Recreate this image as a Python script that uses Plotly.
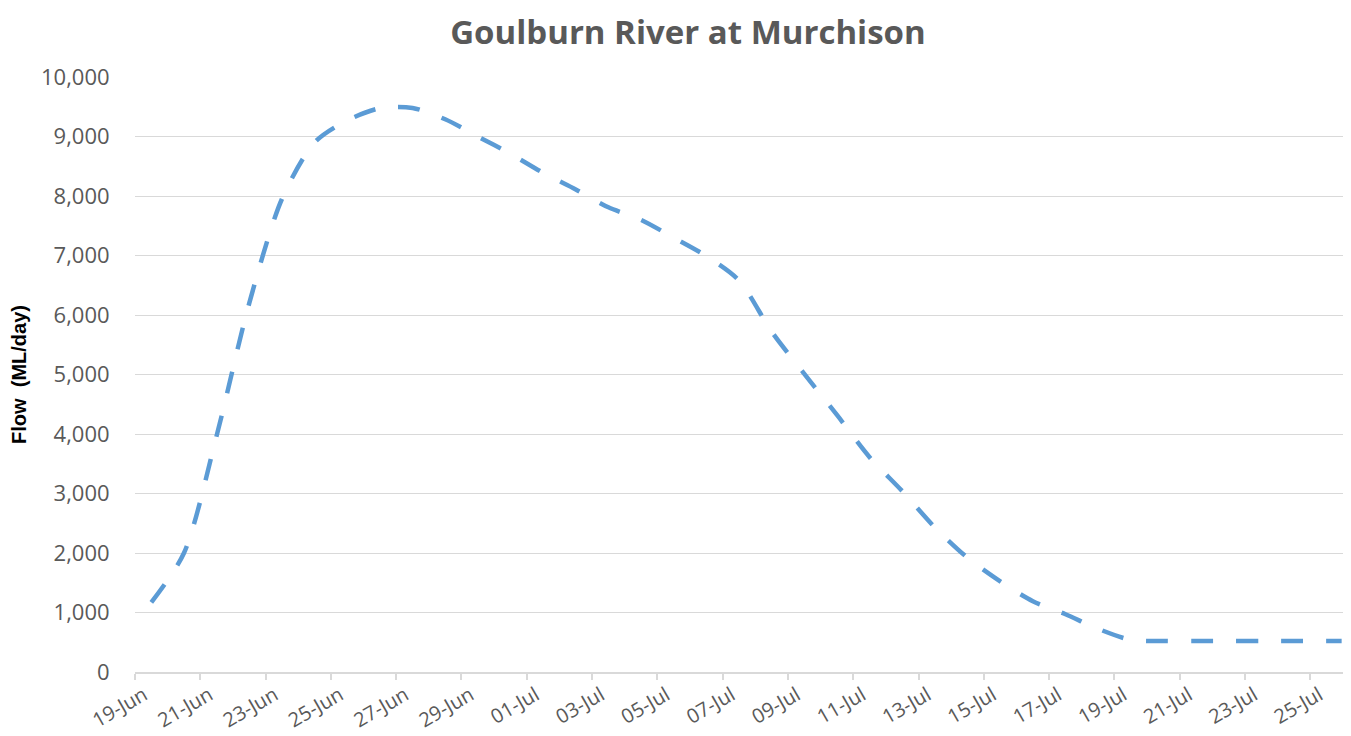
import plotly.graph_objects as go

# Flow readings (ML/day) at midday of each day, plus the final reading late on 25-Jul
dates = [
    "2023-06-19", "2023-06-20", "2023-06-21", "2023-06-22", "2023-06-23",
    "2023-06-24", "2023-06-25", "2023-06-26", "2023-06-27", "2023-06-28",
    "2023-06-29", "2023-06-30", "2023-07-01", "2023-07-02", "2023-07-03",
    "2023-07-04", "2023-07-05", "2023-07-06", "2023-07-07", "2023-07-08",
    "2023-07-09", "2023-07-10", "2023-07-11", "2023-07-12", "2023-07-13",
    "2023-07-14", "2023-07-15", "2023-07-16", "2023-07-17", "2023-07-18",
    "2023-07-19", "2023-07-20", "2023-07-21", "2023-07-22", "2023-07-23",
    "2023-07-24", "2023-07-25",
]
flow = [
    1170, 2000, 3970, 6200, 7950,
    8900, 9270, 9475, 9480, 9290,
    9000, 8710, 8390, 8110, 7810,
    7600, 7300, 6990, 6580, 5720,
    5010, 4320, 3610, 3040, 2430,
    1920, 1525, 1190, 970, 725,
    540, 520, 520, 520, 520,
    520, 520,
]
final_time = "2023-07-25 23:00"
final_flow = 520

title_text = "Goulburn River at Murchison"
y_title = "Flow  (ML/day)"

x_times = [d + " 12:00" for d in dates] + [final_time]
y_vals = flow + [final_flow]

fig = go.Figure()
fig.add_trace(go.Scatter(
    x=x_times, y=y_vals, mode="lines",
    line=dict(color="#5B9BD5", width=4.5, dash="22px,23px", shape="spline", smoothing=0.8),
    showlegend=False, hoverinfo="x+y",
))

fig.update_layout(
    width=1343, height=728,
    paper_bgcolor="white", plot_bgcolor="white",
    margin=dict(l=127, r=8, t=69, b=64, autoexpand=False),
    title=dict(
        text="<b>" + title_text + "</b>",
        x=0.5063, xref="container", xanchor="center",
        y=0.967, yref="container", yanchor="middle",
        font=dict(family="Open Sans", size=33, color="#595959"),
    ),
    xaxis=dict(
        type="date", automargin=False,
        range=["2023-06-19", "2023-07-26"],
        tick0="2023-06-19", dtick=2 * 86400000,
        tickformat="%d-%b", tickangle=-30,
        ticks="outside", ticklen=6, tickcolor="#d9d9d9", tickwidth=1.5,
        ticklabelshift=9, ticklabelstandoff=-4,
        showline=True, linecolor="#d9d9d9", linewidth=1.5,
        showgrid=False, zeroline=False,
        tickfont=dict(family="Open Sans", size=20, color="#595959"),
    ),
    yaxis=dict(
        automargin=False,
        range=[0, 10000], dtick=1000, tickformat=",",
        showgrid=True, gridcolor="#d9d9d9", gridwidth=1.2,
        zeroline=False, showline=False,
        ticks="outside", ticklen=20, tickcolor="rgba(0,0,0,0)",
        tickfont=dict(family="Open Sans", size=22, color="#595959"),
        title=dict(text="<b>" + y_title + "</b>", standoff=10,
                   font=dict(family="Liberation Sans", size=20, color="black")),
    ),
)

fig.write_html("out.html")
